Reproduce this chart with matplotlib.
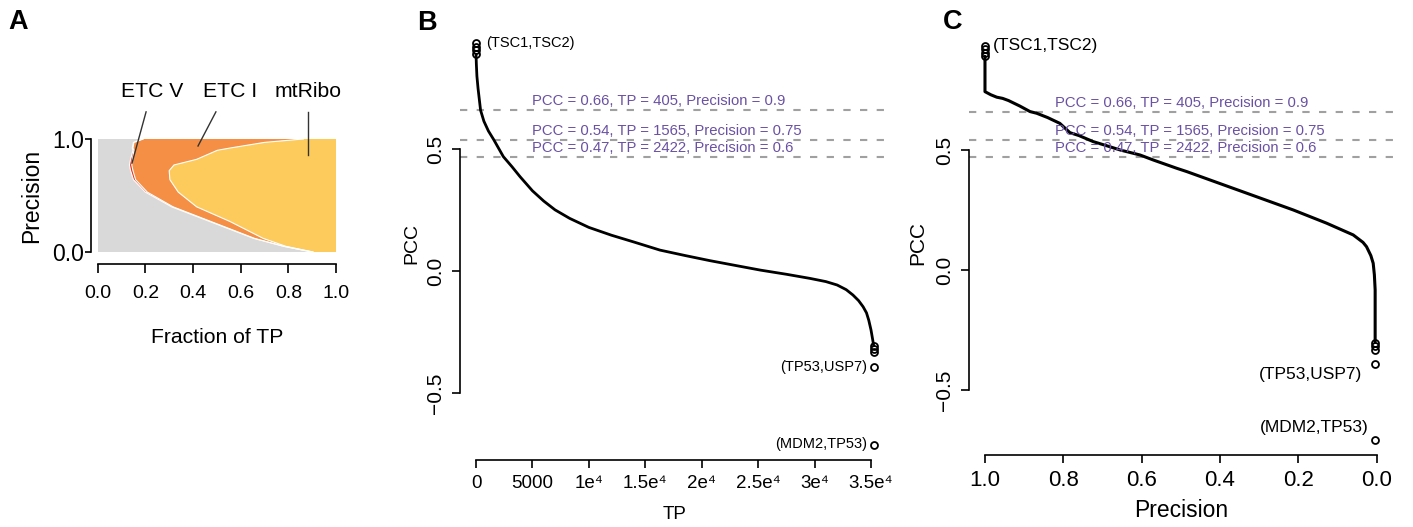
import matplotlib
matplotlib.use("Agg")
import matplotlib.pyplot as plt
import numpy as np

plt.rcParams['font.family'] = ['Liberation Sans', 'DejaVu Sans']

W, H = 1413, 527

# ---- panel A: fraction of TP per complex along precision
prec_levels = [1.0, 0.97, 0.92, 0.9, 0.82, 0.77, 0.72, 0.64, 0.53, 0.4, 0.27, 0.12, 0.05, 0.0]
frac_other = [0.19, 0.15, 0.145, 0.148, 0.138, 0.133, 0.138, 0.15, 0.2, 0.31, 0.47, 0.655, 0.78, 0.9]
frac_etc5 = [0.0, 0.002, 0.003, 0.004, 0.008, 0.01, 0.01, 0.009, 0.008, 0.006, 0.005, 0.004, 0.003, 0.0]
frac_etc1 = [0.673, 0.548, 0.407, 0.35, 0.269, 0.177, 0.152, 0.144, 0.13, 0.099, 0.08, 0.036, 0.007, 0.005]
frac_mtribo = [0.137, 0.30, 0.445, 0.498, 0.585, 0.68, 0.70, 0.697, 0.662, 0.585, 0.445, 0.305, 0.21, 0.095]
complex_names = ['ETC V', 'ETC I', 'mtRibo']
complex_colors = ['#D9D9D9', '#E8341C', '#F58F45', '#FDCB5B']

# ---- panel B / C: PCC ranked curve
tp_rank = [4, 30, 80, 180, 405, 700, 1100, 1565, 2422, 3200, 3900, 5000, 6000, 7000, 8300,
           10000, 12000, 14000, 16300, 18500, 20700, 23000, 25200, 27500, 29600, 31000,
           32000, 32800, 33400, 33900, 34300, 34600, 34800, 35000, 35150, 35240]
pcc_by_tp = [0.89, 0.85, 0.80, 0.75, 0.66, 0.615, 0.575, 0.54, 0.47, 0.428, 0.388, 0.33, 0.288,
             0.252, 0.217, 0.18, 0.148, 0.12, 0.087, 0.065, 0.044, 0.024, 0.005, -0.012, -0.029,
             -0.042, -0.056, -0.075, -0.097, -0.12, -0.145, -0.17, -0.2, -0.24, -0.28, -0.305]

prec_curve = [1.0, 1.0, 0.985, 0.97, 0.955, 0.94, 0.911, 0.885, 0.868, 0.84, 0.809, 0.795, 0.783,
              0.76, 0.724, 0.69, 0.655, 0.604, 0.57, 0.511, 0.485, 0.40, 0.315, 0.213, 0.128,
              0.06, 0.035, 0.026, 0.015, 0.009, 0.006, 0.004, 0.004]
pcc_by_prec = [0.89, 0.743, 0.73, 0.72, 0.715, 0.706, 0.683, 0.66, 0.653, 0.635, 0.611, 0.59, 0.572,
               0.56, 0.535, 0.518, 0.50, 0.479, 0.458, 0.424, 0.41, 0.36, 0.31, 0.25, 0.195,
               0.146, 0.115, 0.097, 0.06, 0.028, -0.02, -0.083, -0.30]

top_tp = [1, 2, 3, 4]
top_pcc = [0.935, 0.92, 0.905, 0.89]
bot_tp = [35245, 35246, 35247, 35248, 35249]
bot_prec = [0.0035, 0.0035, 0.0035, 0.0035, 0.0035]
bot_pcc = [-0.305, -0.318, -0.332, -0.39, -0.71]

cut_pcc = [0.66, 0.54, 0.47]
cut_tp = [405, 1565, 2422]
cut_prec = ['0.9', '0.75', '0.6']

tp_ticks = [0, 5000, 10000, 15000, 20000, 25000, 30000, 35000]
tp_ticklabels = ['0', '5000', '1e\u2074', '1.5e\u2074', '2e\u2074', '2.5e\u2074', '3e\u2074', '3.5e\u2074']

purple = '#6A51A3'
dash_gray = '#A0A0A0'

fig = plt.figure(figsize=(W / 100, H / 100), dpi=100)


def px_axes(x0, y0, x1, y1):
    return fig.add_axes([x0 / W, 1 - y1 / H, (x1 - x0) / W, (y1 - y0) / H])


def r_style(ax):
    for s in ['top', 'right']:
        ax.spines[s].set_visible(False)
    for s in ['left', 'bottom']:
        ax.spines[s].set_linewidth(1.2)
    ax.tick_params(width=1.2, color='black')


# ---------------- A
axA = px_axes(97.7, 139, 336, 252)
r_style(axA)
cum = np.zeros(len(prec_levels))
for vals, col in zip([frac_other, frac_etc5, frac_etc1, frac_mtribo], complex_colors):
    nxt = cum + np.array(vals)
    axA.fill_betweenx(prec_levels, cum, nxt, facecolor=col, edgecolor='none')
    cum = nxt
# white borders between bands
cum = np.zeros(len(prec_levels))
for vals in [frac_other, frac_etc5, frac_etc1]:
    cum = cum + np.array(vals)
    axA.plot(cum, prec_levels, color='white', lw=0.8)
axA.set_xlim(0, 1)
axA.set_ylim(0, 1)
axA.spines['left'].set_position(('outward', 4.5))
axA.spines['bottom'].set_position(('outward', 8.5))
axA.spines['left'].set_bounds(0, 1)
axA.spines['bottom'].set_bounds(0, 1)
axA.set_xticks([0, 0.2, 0.4, 0.6, 0.8, 1.0])
axA.set_xticklabels(['0.0', '0.2', '0.4', '0.6', '0.8', '1.0'], fontsize=14)
axA.set_yticks([0, 1])
axA.set_yticklabels(['0.0', '1.0'], fontsize=16.5)
axA.tick_params(axis='x', length=6.5, pad=8.5)
axA.tick_params(axis='y', length=4, pad=1.5)
axA.set_xlabel('Fraction of TP', fontsize=15.2, labelpad=19)
axA.set_ylabel('Precision', fontsize=16.5, labelpad=6)

lab_x = [0.228, 0.555, 0.882]
line_end = [(0.144, 0.787), (0.421, 0.938), (0.882, 0.858)]
line_start_x = [0.203, 0.496, 0.882]
for name, tx, (ex, ey), sx in zip(complex_names, lab_x, line_end, line_start_x):
    axA.text(tx, 1.417, name, ha='center', va='center', fontsize=15.2, clip_on=False)
    axA.plot([sx, ex], [1.24, ey], color='#333333', lw=1.0, clip_on=False)

# ---------------- B
axB = px_axes(460, 28, 890, 460)
r_style(axB)
axB.set_xlim(-1418, 36684)
axB.set_ylim(-0.773, 0.997)
for c in cut_pcc:
    axB.axhline(c, color=dash_gray, lw=1.5, linestyle=(0, (3.5, 4.5)))
axB.plot(tp_rank, pcc_by_tp, color='black', lw=2.0, solid_capstyle='round', solid_joinstyle='round')
axB.plot(top_tp, top_pcc, 'o', mfc='none', mec='black', ms=5, mew=1.3)
axB.plot(bot_tp, bot_pcc, 'o', mfc='none', mec='black', ms=5, mew=1.3)
for c, t, p in zip(cut_pcc, cut_tp, cut_prec):
    axB.annotate('PCC = %.2f, TP = %d, Precision = %s' % (c, t, p), xy=(5000, c),
                 xytext=(0, 6.5), textcoords='offset points', ha='left', va='center',
                 color=purple, fontsize=10.7)
axB.annotate('(TSC1,TSC2)', xy=(top_tp[0], top_pcc[0]), xytext=(7.2, 0), textcoords='offset points',
             ha='left', va='center', fontsize=10.5)
axB.annotate('(TP53,USP7)', xy=(bot_tp[3], bot_pcc[3]), xytext=(-5, 0), textcoords='offset points',
             ha='right', va='center', fontsize=10.5)
axB.annotate('(MDM2,TP53)', xy=(bot_tp[4], bot_pcc[4]), xytext=(-4.5, 0.8), textcoords='offset points',
             ha='right', va='center', fontsize=10.5)
axB.spines['left'].set_bounds(-0.5, 0.5)
axB.spines['bottom'].set_bounds(0, 35000)
axB.set_yticks([-0.5, 0, 0.5])
axB.set_yticklabels(['\u22120.5', '0.0', '0.5'], fontsize=15, rotation=90, va='center')
axB.set_xticks(tp_ticks)
axB.set_xticklabels(tp_ticklabels, fontsize=13.5)
axB.tick_params(axis='both', length=5.8, pad=5)
axB.set_xlabel('TP', fontsize=13.5, labelpad=10)
axB.set_ylabel('PCC', fontsize=14, labelpad=4)

# ---------------- C
axC = px_axes(969, 30.7, 1392.7, 455)
r_style(axC)
axC.set_xlim(1.0408, -0.0408)
axC.set_ylim(-0.771, 0.997)
for c in cut_pcc:
    axC.axhline(c, color=dash_gray, lw=1.5, linestyle=(0, (3.5, 4.5)))
axC.plot(prec_curve, pcc_by_prec, color='black', lw=2.2, solid_capstyle='round', solid_joinstyle='round')
axC.plot([1.0] * len(top_pcc), top_pcc, 'o', mfc='none', mec='black', ms=5, mew=1.3)
axC.plot(bot_prec, bot_pcc, 'o', mfc='none', mec='black', ms=5, mew=1.3)
for c, t, p in zip(cut_pcc, cut_tp, cut_prec):
    axC.annotate('PCC = %.2f, TP = %d, Precision = %s' % (c, t, p), xy=(0.821, c),
                 xytext=(0, 6.5), textcoords='offset points', ha='left', va='center',
                 color=purple, fontsize=10.7)
axC.annotate('(TSC1,TSC2)', xy=(1.0, top_pcc[0]), xytext=(5.5, 0), textcoords='offset points',
             ha='left', va='center', fontsize=12.5)
axC.annotate('(TP53,USP7)', xy=(bot_prec[3], bot_pcc[3]), xytext=(-9.5, -7.7), textcoords='offset points',
             ha='right', va='center', fontsize=12.5)
axC.annotate('(MDM2,TP53)', xy=(bot_prec[4], bot_pcc[4]), xytext=(-4.8, 9.6), textcoords='offset points',
             ha='right', va='center', fontsize=12.5)
axC.spines['left'].set_bounds(-0.5, 0.5)
axC.spines['bottom'].set_bounds(0, 1)
axC.set_yticks([-0.5, 0, 0.5])
axC.set_yticklabels(['\u22120.5', '0.0', '0.5'], fontsize=15, rotation=90, va='center')
axC.set_xticks([1.0, 0.8, 0.6, 0.4, 0.2, 0.0])
axC.set_xticklabels(['1.0', '0.8', '0.6', '0.4', '0.2', '0.0'], fontsize=16)
axC.tick_params(axis='both', length=5.5, pad=5)
axC.set_xlabel('Precision', fontsize=16.5, labelpad=6)
axC.set_ylabel('PCC', fontsize=15, labelpad=6)

# panel letters
for letter, x, y in [('A', 8, 22), ('B', 417, 23), ('C', 943, 22)]:
    fig.text(x / W, 1 - y / H, letter, fontsize=19.5, fontweight='bold', va='center', ha='left')

fig.savefig('out.png', dpi=100)
